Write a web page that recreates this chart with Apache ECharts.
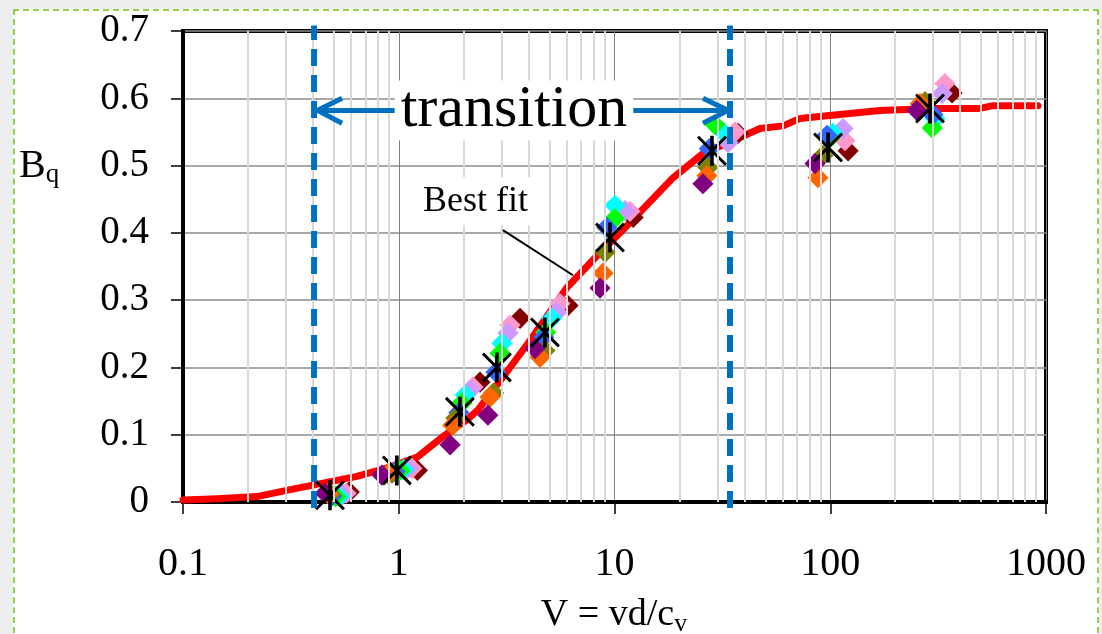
<!DOCTYPE html>
<html>
<head>
<meta charset="utf-8">
<script src="https://cdn.jsdelivr.net/npm/echarts@6/dist/echarts.min.js"></script>
<style>
    html, body { margin: 0; padding: 0; background: #ededed; }
    #frame {
        position: absolute; left: 13px; top: 9px; width: 1082px; height: 640px;
        border: 2px dashed #92D050; background: #ffffff;
    }
    #chart { position: absolute; left: 0; top: 0; width: 1102px; height: 634px; }
</style>
</head>
<body>
<div id="frame"></div>
<div id="chart"></div>
<script>
// tick labels
const xTickLabels = ['0.1', '1', '10', '100', '1000'];
const yTickLabels = ['0', '0.1', '0.2', '0.3', '0.4', '0.5', '0.6', '0.7'];

// data sets (V, Bq)
const purple = [[0.455, 0.013], [0.835, 0.040], [1.73, 0.085], [2.59, 0.129], [4.28, 0.228], [8.57, 0.318], [25.7, 0.473], [85, 0.503], [252, 0.582]];
const orange = [[0.47, 0.012], [0.89, 0.042], [1.78, 0.114], [2.65, 0.156], [4.52, 0.215], [8.85, 0.340], [26.8, 0.485], [87.7, 0.482], [261, 0.592]];
const olive = [[0.48, 0.011], [0.93, 0.043], [1.84, 0.125], [2.75, 0.162], [4.76, 0.225], [9.04, 0.371], [27.1, 0.497], [92.5, 0.515], [275, 0.595]];
const blue = [[0.49, 0.009], [0.96, 0.045], [1.90, 0.133], [2.82, 0.193], [4.70, 0.245], [9.2, 0.408], [27.5, 0.525], [96.6, 0.545], [299, 0.576]];
const green = [[0.51, 0.008], [1.01, 0.047], [1.96, 0.147], [2.95, 0.221], [4.80, 0.252], [10.0, 0.421], [29.2, 0.561], [99, 0.540], [297, 0.556]];
const cyan = [[0.53, 0.008], [1.05, 0.048], [2.03, 0.159], [3.01, 0.236], [5.13, 0.273], [10.05, 0.441], [31.8, 0.550], [103, 0.548], [306, 0.570]];
const lavender = [[0.55, 0.011], [1.10, 0.050], [2.14, 0.166], [3.21, 0.251], [5.41, 0.282], [11.2, 0.433], [33.6, 0.534], [114.6, 0.555], [330, 0.607]];
const pink = [[0.57, 0.013], [1.15, 0.050], [2.21, 0.171], [3.28, 0.263], [5.59, 0.295], [11.8, 0.432], [36.2, 0.550], [117, 0.537], [340, 0.622]];
const maroon = [[0.59, 0.015], [1.22, 0.047], [2.38, 0.178], [3.65, 0.273], [6.09, 0.292], [12.2, 0.423], [37.4, 0.548], [121, 0.522], [367, 0.608]];
const mean = [[0.48, 0.010], [0.98, 0.047], [1.92, 0.134], [2.85, 0.200], [4.76, 0.252], [9.53, 0.393], [28.3, 0.522], [97.7, 0.527], [290, 0.585]];

// best fit curve
const bestFit = [[0.1, 0.003], [0.144, 0.005], [0.22, 0.008], [0.31, 0.018], [0.4, 0.025], [0.64, 0.038], [0.91, 0.052],
    [1.22, 0.067], [1.6, 0.097], [2.07, 0.122], [2.33, 0.137], [2.95, 0.18], [4.06, 0.24], [6.03, 0.319], [8.3, 0.366],
    [10.9, 0.404], [18.7, 0.482], [25.7, 0.518], [35.4, 0.537], [47.2, 0.555], [60.4, 0.559], [72.4, 0.57], [96.6, 0.574],
    [170, 0.582], [299, 0.585], [494, 0.585], [568, 0.589], [918, 0.589]];

// transition limits
const transitionLow = 0.405;
const transitionHigh = 34.3;

const serif = '"Liberation Serif", "Times New Roman", serif';
const starPath = 'path://M44 0L56 0L56 100L44 100Z M7 0L100 93L93 100L0 7Z M93 0L100 7L7 100L0 93Z';

// minor log grid lines at 2..9 of each decade
const minorLines = [];
[0.1, 1, 10, 100].forEach(d => {
    for (let k = 2; k <= 9; k++) minorLines.push({ xAxis: +(d * k).toPrecision(3) });
});

function diamonds(name, data, color) {
    return {
        name: name,
        type: 'scatter',
        data: data,
        symbol: 'rect',
        symbolRotate: 45,
        symbolSize: 15,
        itemStyle: { color: color, opacity: 1 },
        z: 3
    };
}

function plainLine(data, color, width, type) {
    return {
        type: 'line',
        data: data,
        symbol: 'none',
        clip: false,
        silent: true,
        lineStyle: { color: color, width: width, type: type || 'solid', cap: 'butt', join: 'miter' },
        z: 5
    };
}

function textMark(point, text, fontSize, padding) {
    return {
        type: 'scatter',
        data: [point],
        symbolSize: 0,
        silent: true,
        z: 6,
        itemStyle: { opacity: 1 },
        label: {
            show: true,
            position: 'inside',
            formatter: text,
            fontFamily: serif,
            fontSize: fontSize,
            color: '#000',
            textBorderWidth: 0,
            backgroundColor: '#ffffff',
            padding: padding
        }
    };
}

const myEcharts = echarts.init(document.getElementById('chart'), null, { renderer: 'canvas' });

const option = {
    animation: false,
    backgroundColor: 'transparent',
    grid: {
        left: 183,
        right: 56,
        top: 31,
        bottom: 132,
        show: true,
        backgroundColor: '#ffffff',
        borderColor: '#000000',
        borderWidth: 4
    },
    xAxis: {
        type: 'log',
        logBase: 10,
        min: 0.1,
        max: 1000,
        axisLine: { show: true, lineStyle: { color: '#000', width: 4 } },
        axisTick: { show: true, length: 12, lineStyle: { color: '#000', width: 1.5 } },
        axisLabel: {
            margin: 42,
            color: '#000',
            fontFamily: serif,
            fontSize: 40,
            formatter: (v, i) => xTickLabels[i]
        },
        splitLine: { show: true, lineStyle: { color: '#808080', width: 1 } }
    },
    yAxis: {
        type: 'value',
        min: 0,
        max: 0.7,
        interval: 0.1,
        axisLine: { show: true, lineStyle: { color: '#000', width: 4 } },
        axisTick: { show: true, length: 12, lineStyle: { color: '#000', width: 1.5 } },
        axisLabel: {
            margin: 34,
            color: '#000',
            fontFamily: serif,
            fontSize: 39,
            formatter: (v, i) => yTickLabels[i]
        },
        splitLine: { show: true, lineStyle: { color: '#8c8c8c', width: 1.5 } }
    },
    graphic: [
        {
            type: 'text',
            left: 19,
            top: 146,
            style: {
                text: '{b|B}{s|q}',
                rich: {
                    b: { fontFamily: serif, fontSize: 40, lineHeight: 44, fill: '#000' },
                    s: { fontFamily: serif, fontSize: 27, lineHeight: 26, verticalAlign: 'bottom', fill: '#000' }
                }
            }
        },
        {
            type: 'text',
            x: 614,
            y: 615,
            style: {
                text: '{b|V = vd/c}{s|v}',
                align: 'center',
                verticalAlign: 'middle',
                rich: {
                    b: { fontFamily: serif, fontSize: 38, lineHeight: 44, fill: '#000' },
                    s: { fontFamily: serif, fontSize: 26, lineHeight: 26, verticalAlign: 'bottom', fill: '#000' }
                }
            }
        }
    ],
    series: [
        {
            type: 'line',
            data: [],
            silent: true,
            z: 1,
            markLine: {
                silent: true,
                symbol: 'none',
                label: { show: false },
                lineStyle: { color: '#d9d9d9', width: 2, type: 'solid' },
                data: minorLines
            }
        },
        {
            name: 'Best fit',
            type: 'line',
            data: bestFit,
            symbol: 'none',
            lineStyle: { color: '#ff0000', width: 7, cap: 'round', join: 'round' },
            z: 2
        },
        diamonds('maroon', maroon, '#800000'),
        diamonds('pink', pink, '#FF99CC'),
        diamonds('lavender', lavender, '#CC99FF'),
        diamonds('cyan', cyan, '#00FFFF'),
        diamonds('green', green, '#00FF00'),
        diamonds('blue', blue, '#3366FF'),
        diamonds('olive', olive, '#808000'),
        diamonds('orange', orange, '#FF6600'),
        diamonds('purple', purple, '#800080'),
        {
            name: 'mean',
            type: 'scatter',
            data: mean,
            symbol: starPath,
            symbolSize: 30,
            itemStyle: { color: '#000', opacity: 1 },
            z: 4
        },
        plainLine([[transitionLow, -0.009], [transitionLow, 0.708]], '#0070C0', 6, [17, 9]),
        plainLine([[transitionHigh, -0.009], [transitionHigh, 0.708]], '#0070C0', 6, [17, 9]),
        plainLine([[0.42, 0.582], [33.6, 0.582]], '#0070C0', 5),
        plainLine([[0.546, 0.600], [0.42, 0.582], [0.546, 0.563]], '#0070C0', 5),
        plainLine([[25.7, 0.600], [33.6, 0.582], [25.7, 0.563]], '#0070C0', 5),
        plainLine([[3.04, 0.404], [6.42, 0.337]], '#000', 2),
        textMark([3.42, 0.582], 'transition', 60, [0, 6]),
        textMark([2.27, 0.447], 'Best fit', 36, [6, 10])
    ]
};

myEcharts.setOption(option);
</script>
</body>
</html>
